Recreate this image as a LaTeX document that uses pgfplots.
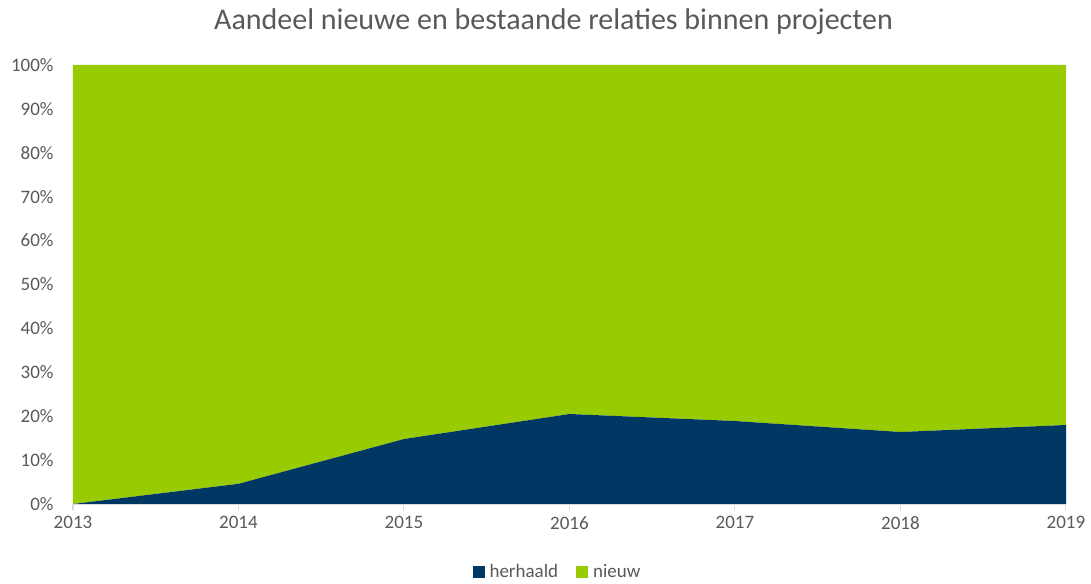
\documentclass[border=0pt]{standalone}
\usepackage{fontspec}
\setmainfont{Carlito}
\usepackage{pgfplots}
\pgfplotsset{compat=1.18}
\definecolor{navy}{HTML}{003763}
\definecolor{lgreen}{HTML}{99CC00}
\definecolor{txt}{HTML}{595959}
\definecolor{axl}{HTML}{D9D9D9}
\begin{document}
\begin{tikzpicture}
\path (-73pt,-76pt) rectangle (1018pt,504pt);
\begin{axis}[
  scale only axis, width=993pt, height=439pt,
  xmin=2013, xmax=2019, ymin=0, ymax=100,
  stack plots=y,
  axis on top,
  axis x line*=bottom, axis y line*=left,
  x axis line style={axl, line width=1pt, -},
  y axis line style={draw=none},
  ytick={0,10,...,100},
  xtick={2013,...,2019},
  ytick style={draw=none},
  xtick style={axl, line width=1pt},
  tick align=outside,
  major tick length=6pt,
  /pgf/number format/1000 sep={},
  /pgf/number format/assume math mode=true,
  yticklabel={\pgfmathprintnumber{\tick}\%},
  tick label style={font=\fontsize{19}{19}\selectfont, text=txt},
  yticklabel style={xshift=-10pt},
  xticklabel style={yshift=-3pt},
  title={Aandeel nieuwe en bestaande relaties binnen projecten},
  title style={font=\fontsize{30}{30}\selectfont, text=txt, at={(axis description cs:0.5,1.085)}, anchor=center, xshift=-16pt},
  legend columns=2,
  legend style={draw=none, at={(axis description cs:0.5,-0.155)}, anchor=center, xshift=-12pt,
    font=\fontsize{19}{19}\selectfont, text=txt,
    /tikz/every odd column/.append style={column sep=3pt},
    /tikz/every even column/.append style={column sep=16pt}},
  legend image code/.code={\fill[#1] (0pt,-6pt) rectangle (12pt,6pt);},
]
\addplot[fill=navy, draw=none] coordinates {(2013,0) (2014,4.6) (2015,14.8) (2016,20.5) (2017,18.9) (2018,16.4) (2019,18.0)} \closedcycle;
\addplot[fill=lgreen, draw=none] coordinates {(2013,100) (2014,95.4) (2015,85.2) (2016,79.5) (2017,81.1) (2018,83.6) (2019,82.0)} \closedcycle;
\legend{herhaald, nieuw}
\end{axis}
\end{tikzpicture}
\end{document}
